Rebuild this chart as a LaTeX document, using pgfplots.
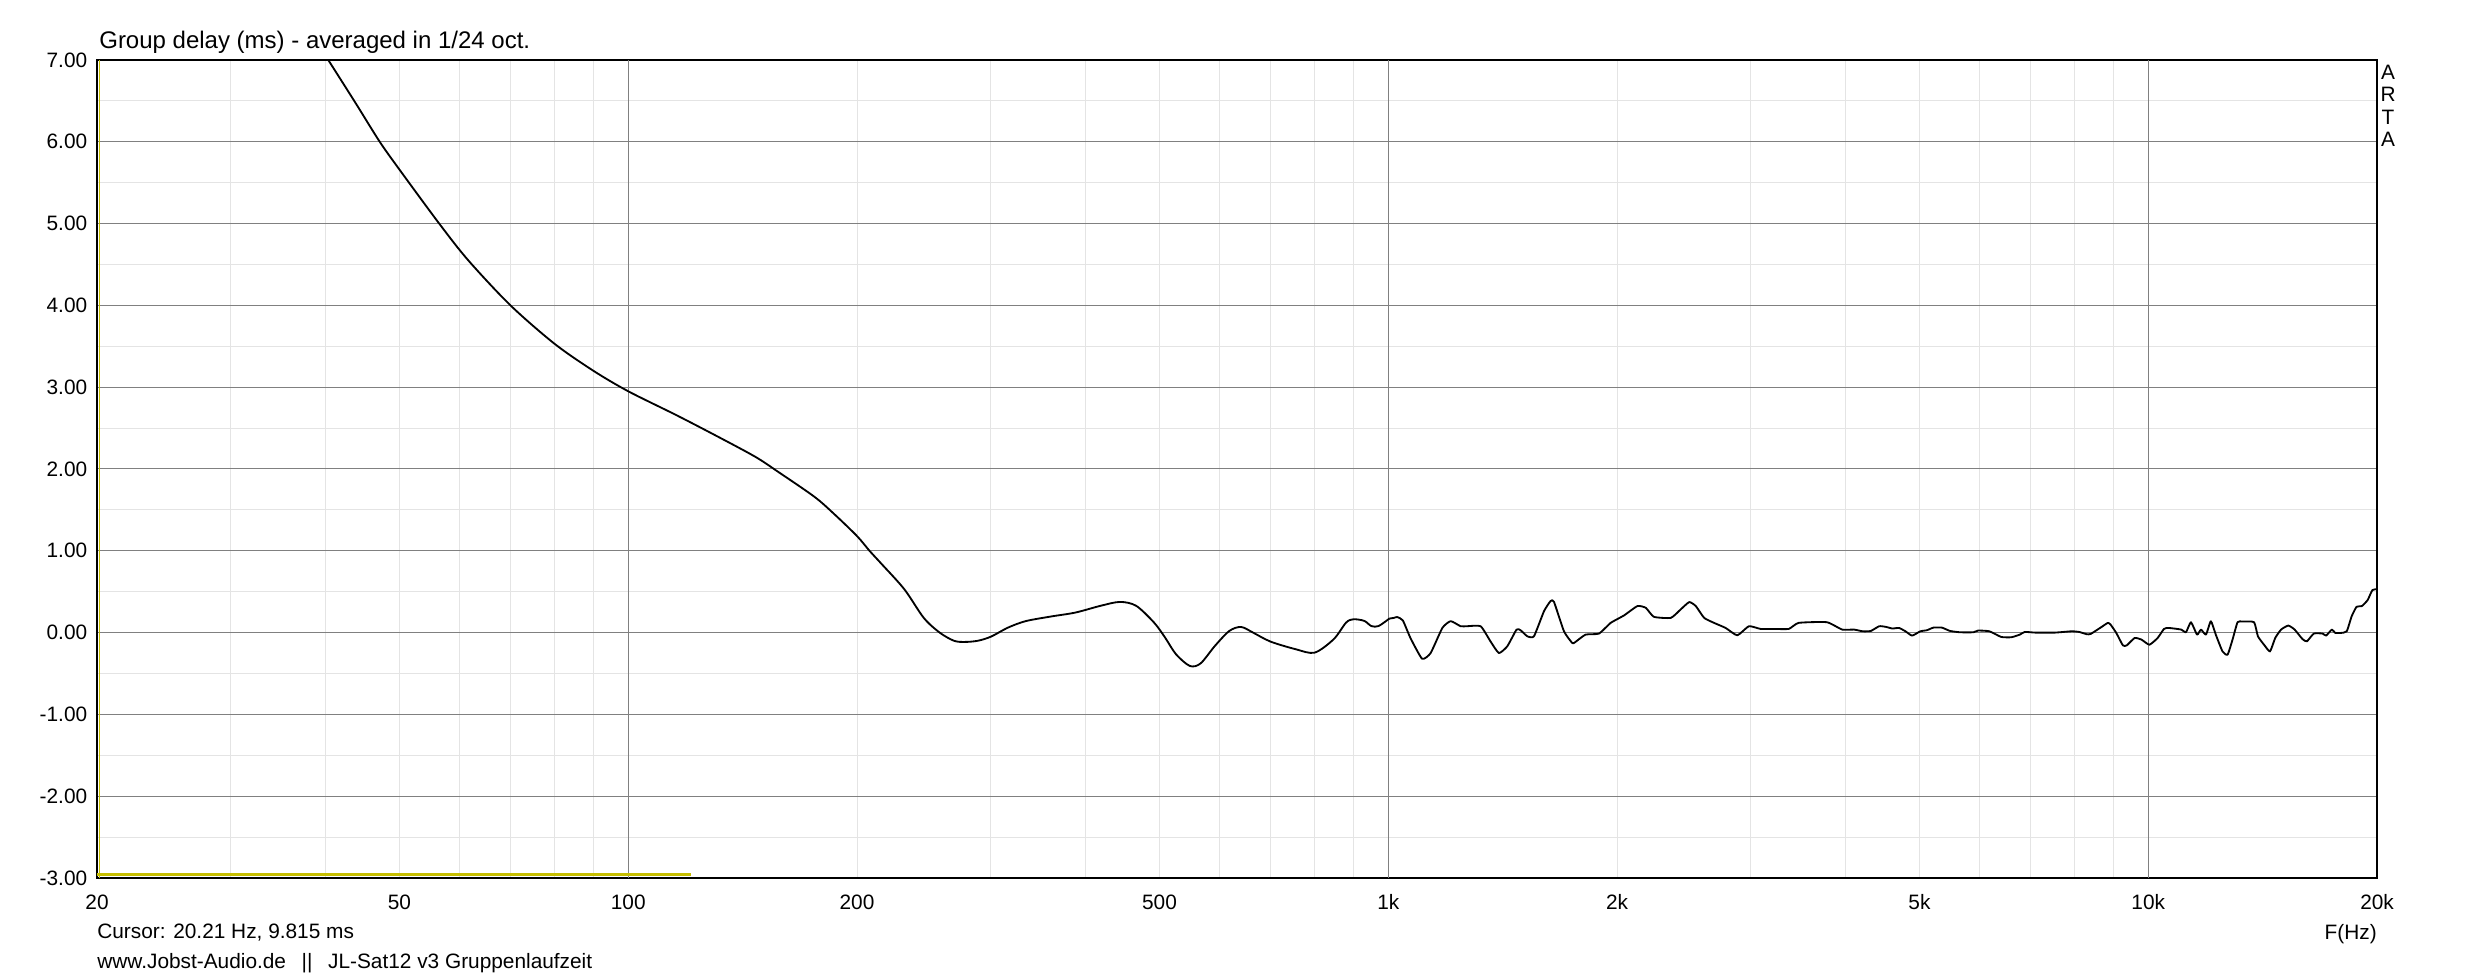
\documentclass[border=0pt]{standalone}
\usepackage{fontspec}
\setmainfont{Liberation Sans}
\usepackage{pgfplots}
\pgfplotsset{compat=1.18}
\definecolor{majgrid}{RGB}{128,128,128}
\definecolor{mingrid}{RGB}{228,228,228}
\definecolor{artayellow}{RGB}{198,190,0}
\begin{document}
\begin{tikzpicture}
\begin{axis}[
  at={(0pt,0pt)}, anchor=south west,
  scale only axis, width=1368pt, height=490.8pt,
  xmode=log, log basis x=10,
  xmin=20, xmax=20000, ymin=-3, ymax=7,
  xtick={20,50,100,200,500,1000,2000,5000,10000,20000},
  xticklabels={20,50,100,200,500,1k,2k,5k,10k,20k},
  minor xtick={30,40,60,70,80,90,300,400,600,700,800,900,3000,4000,6000,7000,8000,9000},
  extra x ticks={100,1000,10000},
  extra x tick labels={},
  extra x tick style={major x grid style={majgrid, line width=0.6pt}},
  ytick={-3,-2,-1,0,1,2,3,4,5,6,7},
  yticklabels={-3.00,-2.00,-1.00,0.00,1.00,2.00,3.00,4.00,5.00,6.00,7.00},
  minor ytick={-2.5,-1.5,-0.5,0.5,1.5,2.5,3.5,4.5,5.5,6.5},
  grid=both,
  major x grid style={mingrid, line width=0.6pt},
  minor x grid style={mingrid, line width=0.6pt},
  major y grid style={majgrid, line width=0.6pt},
  minor y grid style={mingrid, line width=0.6pt},
  major tick length=0pt, minor tick length=0pt,
  axis line style={black, line width=0.7pt},
  ticklabel style={font=\fontsize{12.5}{15}\selectfont},
  xticklabel style={anchor=base, yshift=-18.6pt, inner sep=0pt},
  yticklabel style={anchor=east, xshift=-5.7pt, inner sep=0pt},
]
\addplot[artayellow, line width=0.6pt] coordinates {(20.16,-3) (20.16,7)};
\addplot[artayellow, line width=1.8pt] coordinates {(20,-2.955) (121,-2.955)};
\addplot[black, line width=1.1pt, smooth, tension=0.5, line join=round] coordinates {
(40.3,7.00) (43.8,6.47) (47.1,6.00) (50,5.66) (56.4,5.00) (61.6,4.55)
(70,4.00) (80,3.53) (90,3.20) (100,2.95) (115.6,2.66) (130.3,2.41)
(146.9,2.15) (157.8,1.96) (175.8,1.66) (186.6,1.45) (200,1.18)
(207.7,1.00) (215.4,0.84) (230.8,0.53) (244.8,0.18)
(256.9,0.00) (268.3,-0.10) (277.3,-0.114) (288.3,-0.10) (300,-0.05)
(315.8,0.06) (333.3,0.14) (359.5,0.196) (387.6,0.245) (418,0.327)
(443.6,0.375) (466,0.327) (491.9,0.122) (508.5,-0.06) (525.7,-0.265)
(548.3,-0.408) (566.4,-0.376) (591.4,-0.163) (617.8,0.02) (640.2,0.069)
(663.9,0.0) (700,-0.11) (756,-0.204) (800,-0.245) (847.8,-0.08)
(880,0.122) (900,0.163) (930,0.143) (950,0.08) (971,0.08) (1003,0.171)
};
\addplot[black, line width=1.1pt, smooth, tension=0.3, line join=round] coordinates {
(1003,0.171)
(1017,0.18) (1027,0.19) (1045,0.15) (1070,-0.07) (1108,-0.32)
(1137,-0.25) (1178,0.057) (1208,0.14) (1245,0.078) (1270,0.078)
(1323,0.078) (1363,-0.107) (1398,-0.25) (1434,-0.168) (1475,0.037)
(1493,0.029) (1524,-0.045) (1555,-0.045) (1603,0.262) (1635,0.385)
(1652,0.377) (1703,0.016) (1746,-0.127) (1760,-0.12) (1818,-0.025)
(1894,-0.012) (1962,0.119) (2042,0.209) (2127,0.324) (2182,0.303)
(2236,0.193) (2354,0.18) (2425,0.283) (2489,0.373) (2539,0.324)
(2604,0.18) (2683,0.119) (2779,0.057) (2879,-0.033) (2982,0.078)
(3089,0.045) (3215,0.045) (3365,0.045) (3468,0.119) (3777,0.127)
(3956,0.037) (4100,0.037) (4209,0.016) (4314,0.02) (4426,0.078)
(4515,0.07) (4606,0.05) (4699,0.057) (4792,0.016) (4889,-0.037)
(5013,0.016) (5114,0.029) (5215,0.061) (5350,0.061) (5486,0.02)
(5654,0.004) (5887,0.004) (5972,0.025) (6179,0.016) (6405,-0.053)
(6604,-0.057) (6775,-0.025) (6880,0.008) (7100,0.0) (7538,0.0)
(7927,0.016) (8110,0.008) (8302,-0.02) (8400,-0.016) (8671,0.066)
(8848,0.119) (8920,0.098) (9076,-0.004) (9260,-0.156) (9370,-0.156)
(9596,-0.066) (9797,-0.086) (10034,-0.148) (10287,-0.066) (10488,0.045)
(10640,0.057) (11050,0.037) (11210,0.004) (11381,0.127) (11593,-0.025)
(11731,0.037) (11910,-0.025) (12088,0.139) (12270,-0.025) (12522,-0.23)
(12717,-0.27) (12908,-0.086) (13106,0.127) (13302,0.135) (13778,0.127)
(13940,-0.045) (14200,-0.148) (14460,-0.23) (14690,-0.066) (14956,0.037)
(15284,0.086) (15580,0.037) (15951,-0.078) (16170,-0.107) (16514,-0.012)
(16958,-0.012) (17140,-0.037) (17442,0.037) (17620,-0.004) (17930,-0.004)
(18244,0.016) (18522,0.2) (18800,0.316) (19100,0.324) (19440,0.398)
(19720,0.52) (20000,0.53)
};
\end{axis}
\node[anchor=base west, inner sep=0pt, font=\fontsize{14.4}{17}\selectfont] at (1.2pt,497.4pt) {Group delay (ms) - averaged in 1/24 oct.};
\node[anchor=north, inner sep=0pt, align=center, font=\fontsize{12.5}{13.4}\selectfont] at (1374.6pt,487.8pt) {A\\R\\T\\A};
\node[anchor=base west, inner sep=0pt, font=\fontsize{12.5}{15}\selectfont] at (0pt,-36.4pt) {Cursor: 20.21 Hz, 9.815 ms};
\node[anchor=base east, inner sep=0pt, font=\fontsize{12.5}{15}\selectfont] at (1368pt,-36.6pt) {F(Hz)};
\node[anchor=base west, inner sep=0pt, font=\fontsize{12.5}{15}\selectfont] at (0pt,-54.2pt) {www.Jobst-Audio.de\hspace{0.75em}||\hspace{0.75em}JL-Sat12 v3 Gruppenlaufzeit};
\pgfresetboundingbox
\useasboundingbox (-58.2pt,-60pt) rectangle (1425.6pt,526.8pt);
\end{tikzpicture}
\end{document}
